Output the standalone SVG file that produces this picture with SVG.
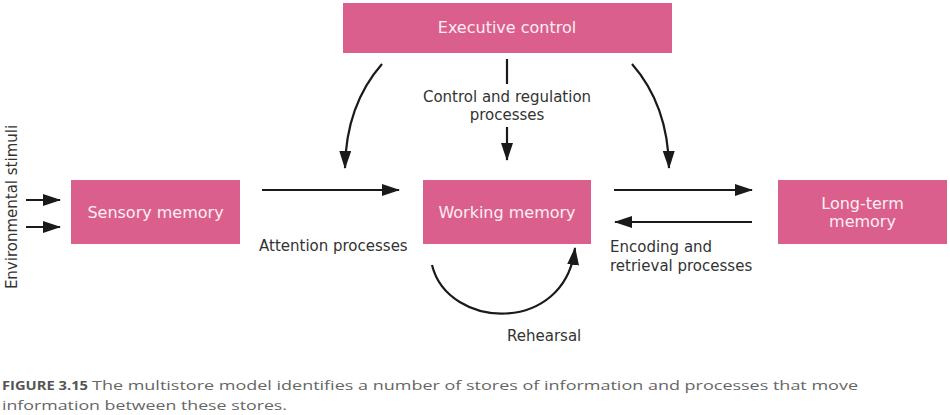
<svg xmlns="http://www.w3.org/2000/svg" width="950" height="415" viewBox="0 0 950 415">
<style>
.box{fill:#db5f8c;}
.bt{font-family:"DejaVu Sans","Noto Sans",sans-serif;font-size:16px;fill:#fbeef3;text-anchor:middle;}
.lb{font-family:"DejaVu Sans","Noto Sans",sans-serif;font-size:15px;fill:#333;}
.ln{stroke:#1a1a1a;stroke-width:2.2;fill:none;}
.cap{font-family:"Open Sans","Liberation Sans",sans-serif;font-size:13.5px;fill:#666;}
.capb{font-family:"Open Sans","Liberation Sans",sans-serif;font-size:13px;font-weight:bold;fill:#555;}
</style>
<defs>
<marker id="ah" viewBox="0 0 18 12" refX="17" refY="6" markerWidth="18" markerHeight="12" markerUnits="userSpaceOnUse" orient="auto">
<path d="M0,0 L18,6 L0,12 Z" fill="#1a1a1a"/>
</marker>
</defs>
<rect width="950" height="415" fill="#fff"/>
<g id="executive">
<rect class="box" x="343" y="3" width="329" height="50"/>
<text class="bt" x="507" y="33">Executive control</text>
</g>
<g id="sensory">
<rect class="box" x="71" y="180" width="169" height="64"/>
<text class="bt" x="155.5" y="218">Sensory memory</text>
</g>
<g id="working">
<rect class="box" x="423" y="180" width="168" height="64"/>
<text class="bt" x="507" y="218">Working memory</text>
</g>
<g id="longterm">
<rect class="box" x="778" y="180" width="169" height="64"/>
<text class="bt" x="862.5" y="209">Long-term</text>
<text class="bt" x="862.5" y="227">memory</text>
</g>
<g id="connectors">
<line class="ln" x1="26" y1="200" x2="60" y2="200" marker-end="url(#ah)"/>
<line class="ln" x1="26" y1="227" x2="60" y2="227" marker-end="url(#ah)"/>
<line class="ln" x1="262" y1="190" x2="399" y2="190" marker-end="url(#ah)"/>
<line class="ln" x1="614" y1="190" x2="752" y2="190" marker-end="url(#ah)"/>
<line class="ln" x1="752" y1="222" x2="615" y2="222" marker-end="url(#ah)"/>
<path class="ln" d="M382,64 Q346,105 345,168" marker-end="url(#ah)"/>
<path class="ln" d="M632,64 Q668,105 669,168" marker-end="url(#ah)"/>
<line class="ln" x1="507" y1="59" x2="507" y2="84"/>
<line class="ln" x1="507" y1="127" x2="507" y2="160" marker-end="url(#ah)"/>
<path class="ln" d="M432,265 C448,330 565,335 575,248" marker-end="url(#ah)"/>
</g>
<g id="labels">
<text class="lb" x="507" y="102" text-anchor="middle">Control and regulation</text>
<text class="lb" x="507" y="120" text-anchor="middle">processes</text>
<text class="lb" x="259" y="251">Attention processes</text>
<text class="lb" x="610" y="252">Encoding and</text>
<text class="lb" x="610" y="271">retrieval processes</text>
<text class="lb" x="507" y="341">Rehearsal</text>
<text class="lb" x="0" y="0" text-anchor="middle" transform="translate(17,207) rotate(-90)">Environmental stimuli</text>
</g>
<g id="caption">
<text class="capb" x="2" y="390" textLength="86" lengthAdjust="spacingAndGlyphs">FIGURE 3.15</text>
<text class="cap" x="92" y="390" textLength="766" lengthAdjust="spacingAndGlyphs">The multistore model identifies a number of stores of information and processes that move</text>
<text class="cap" x="2" y="410" textLength="285" lengthAdjust="spacingAndGlyphs">information between these stores.</text>
</g>
</svg>
